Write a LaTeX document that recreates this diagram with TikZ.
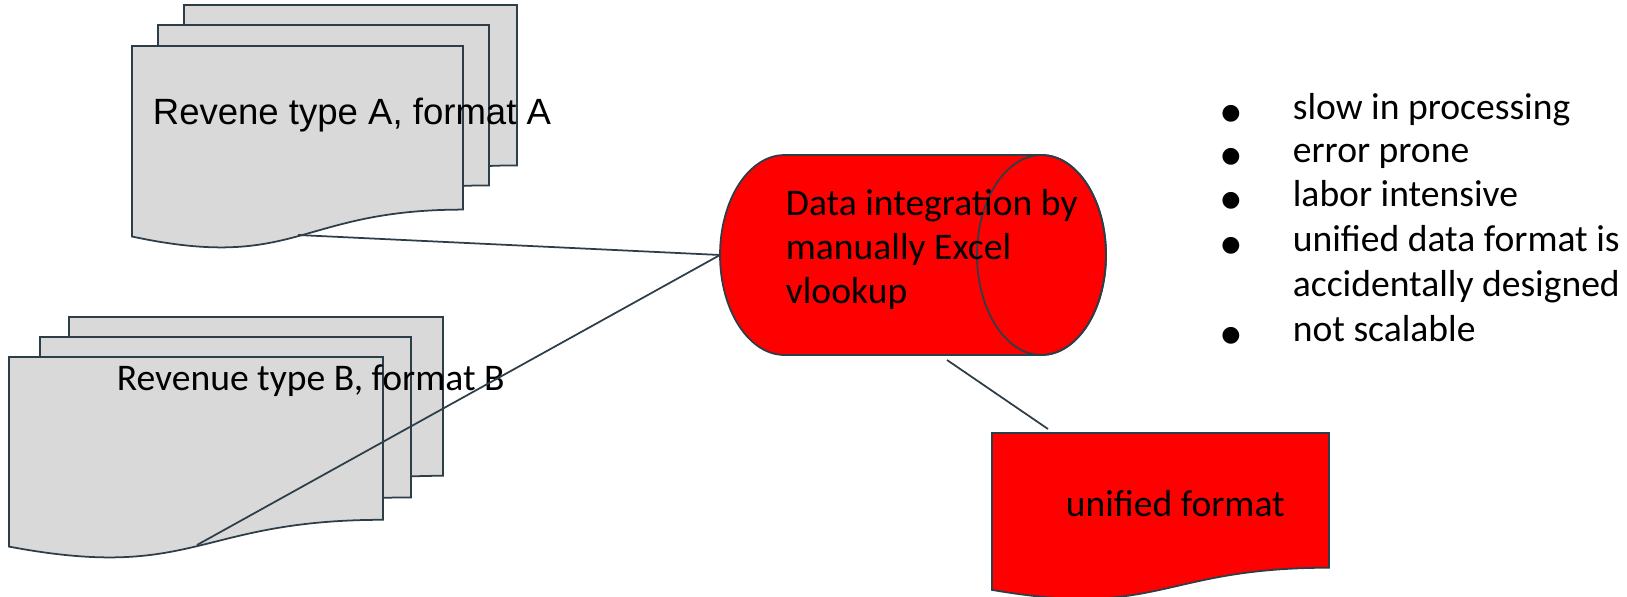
\documentclass[tikz,border=0pt]{standalone}
\usepackage{fontspec}
\usepackage{tikz}
\setmainfont{Carlito}
\newfontfamily\arialfont{Liberation Sans}
\newfontfamily\symfont{DejaVu Sans}
\definecolor{edge}{RGB}{45,62,72}
\definecolor{sheet}{RGB}{217,217,217}
\definecolor{hot}{RGB}{255,0,0}

% document shape: x, y (top left), width, height, fill
\newcommand{\docsheet}[5]{%
  \filldraw[fill=#5] (#1,#2) -- ({#1+#3},#2) -- ({#1+#3},{#2+0.802*#4})
    .. controls ({#1+0.5*#3},{#2+0.802*#4}) and ({#1+0.5*#3},{#2+1.1075*#4}) .. ({#1},{#2+0.934*#4}) -- cycle;}

\begin{document}
\begin{tikzpicture}[x=0.02cm, y=-0.02cm, line width=1pt, draw=edge,
  every node/.style={inner sep=0pt}]

\useasboundingbox (0,0) rectangle (1627,597);

% Revenue A stack
\docsheet{184}{5}{333}{200}{sheet}
\docsheet{158}{25}{331}{200}{sheet}
\docsheet{132}{46}{331}{204}{sheet}
\node[anchor=base west, font={\arialfont\fontsize{20.8}{24}\selectfont}] (labelA) at (152,125) {Revene type A, format A};

% Revenue B stack
\docsheet{69}{317}{374}{198}{sheet}
\docsheet{40}{337}{371}{200}{sheet}
\docsheet{9}{357}{374}{203}{sheet}
\node[anchor=base west, font={\fontsize{21.4}{26}\selectfont}] (labelB) at (116,391) {Revenue type B, format B};

% Cylinder
\filldraw[fill=hot] (784.5,155) -- (1041.5,155) arc (90:-90:1.29cm and 2cm)
  -- (784.5,355) arc (270:90:1.29cm and 2cm) -- cycle;
\draw (1041.5,255) ellipse (1.29cm and 2cm);
\node[anchor=north west, align=left, font={\fontsize{21.4}{25}\selectfont}] (integ) at (785,189)
  {Data integration by\\manually Excel\\vlookup};

% Unified output
\docsheet{992}{433}{337}{168}{hot}
\node[anchor=base west, font={\fontsize{21.4}{26}\selectfont}] (unified) at (1065,517) {unified format};

% Issues list
\tikzset{dot/.style={anchor=base, font={\symfont\fontsize{12.5}{14}\selectfont}},
  item/.style={anchor=base west, font={\fontsize{21.4}{26}\selectfont}}}
\node[dot] (b1) at (1231,120) {●};
\node[item] (i1) at (1292,120) {slow in processing};
\node[dot] (b2) at (1231,163) {●};
\node[item] (i2) at (1292,163) {error prone};
\node[dot] (b3) at (1231,207) {●};
\node[item] (i3) at (1292,207) {labor intensive};
\node[dot] (b4) at (1231,252) {●};
\node[item] (i4) at (1292,252) {unified data format is};
\node[item] (i4b) at (1292,297) {accidentally designed};
\node[dot] (b5) at (1231,342) {●};
\node[item] (i5) at (1292,342) {not scalable};

% Connectors
\coordinate (outA) at (298,235);
\coordinate (outB) at (197,545);
\coordinate (inC) at (720,255);
\coordinate (outC) at (947,360);
\coordinate (inU) at (1048,429);
\draw (outA) -- (inC);
\draw (outB) -- (inC);
\draw (outC) -- (inU);

\end{tikzpicture}
\end{document}
